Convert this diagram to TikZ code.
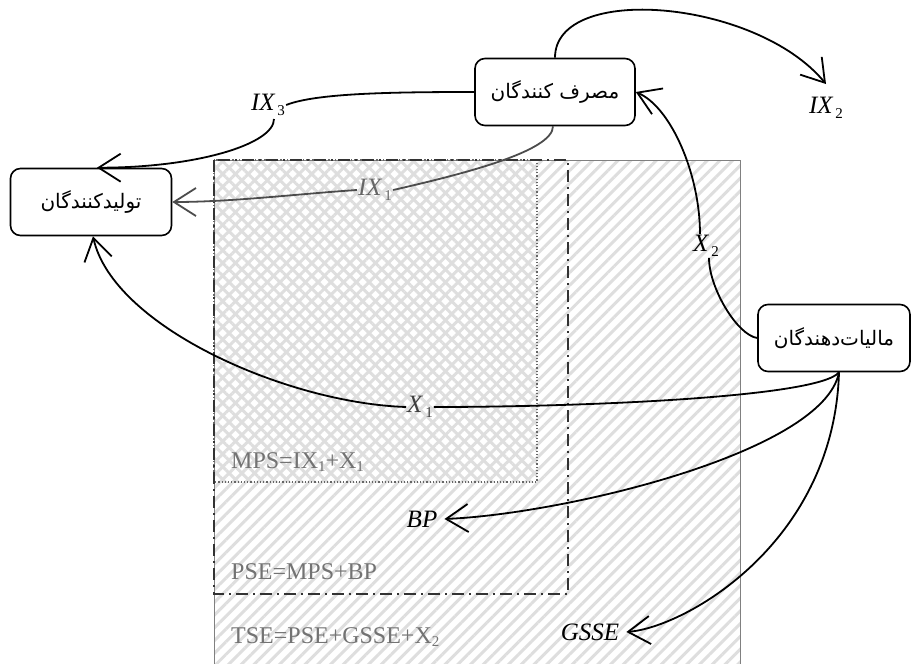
\documentclass[tikz,border=0pt]{standalone}
\usepackage{fontspec}
\setmainfont{Liberation Serif}
\newfontfamily\fa[Script=Arabic]{DejaVu Sans}
\TeXXeTstate=1
\usetikzlibrary{arrows.meta,patterns.meta}
\newcommand{\vlab}[2]{\textit{#1}\hspace{2pt}\raisebox{-0.45ex}{\fontsize{15}{15}\selectfont #2}}
\newcommand{\sbs}[1]{\raisebox{-0.35ex}{\fontsize{15}{15}\selectfont #1}}
\begin{document}
\begin{tikzpicture}[x=1pt,y=-1pt,
  box/.style={draw, line width=1.6pt, rounded corners=10pt, minimum height=67pt, inner sep=2pt, font=\fa\fontsize{20}{20}\selectfont},
  lab/.style={font=\fontsize{25}{25}\selectfont, inner sep=1pt},
  eqn/.style={font=\fontsize{24}{24}\selectfont, text=black!55, anchor=west, inner sep=0pt},
  conn/.style={line width=1.8pt, -{Straight Barb[length=22pt,width=28pt]}},
  plain/.style={line width=1.8pt}]
\useasboundingbox (0,0) rectangle (911,664);
% hatched areas
\fill[pattern={Lines[angle=45,distance=9pt,line width=3pt]}, pattern color=black!13] (214,160) rectangle (740,664);
\fill[pattern={Lines[angle=-45,distance=9pt,line width=3pt]}, pattern color=black!13] (214,160) rectangle (537,482);
% region outlines
\draw[black!50, line width=1pt] (214,664) -- (214,160) -- (740,160) -- (740,664);
\draw[black!60, line width=1.2pt, dash pattern=on 1.2pt off 2pt] (214,160) rectangle (537,482);
\draw[black!80, line width=2.3pt, dash pattern=on 12pt off 5pt on 2pt off 5pt] (214,160) rectangle (568,594);
% nodes
\node[box, minimum width=161pt] (prod) at (91,202) {\beginR تولیدکنندگان\endR};
\node[box, minimum width=160pt] (cons) at (555,92) {\beginR مصرف کنندگان\endR};
\node[box, minimum width=152pt] (tax) at (834,338) {\beginR مالیات^^^^200cدهندگان\endR};
% labels
\node[lab] (ix3) at (268,105) {\vlab{IX}{3}};
\node[lab] (ix2) at (826,108) {\vlab{IX}{2}};
\node[lab, text=black!60] (ix1) at (375,190) {\vlab{IX}{1}};
\node[lab] (x2) at (706,246) {\vlab{X}{2}};
\node[lab, text=black!75] (x1) at (420,407) {\vlab{X}{1}};
\node[lab] (bp) at (422,519) {\textit{BP}};
\node[lab] (gsse) at (590,632) {\textit{GSSE}};
\node[eqn] (mps) at (231,462) {MPS=IX\sbs{1}+X\sbs{1}};
\node[eqn] (pse) at (231,572) {PSE=MPS+BP};
\node[eqn] (tse) at (231,637) {TSE=PSE+GSSE+X\sbs{2}};
% connectors
\draw[conn] ([xshift=0pt]cons.north) .. controls +(0,-75) and +(-70,-85) .. ([yshift=12pt]ix2.north);
\draw[plain] (cons.west) .. controls +(-80,0) and +(30,-12) .. (ix3.east);
\draw[conn] ([xshift=6pt,yshift=-2pt]ix3.south) .. controls +(0,25) and +(100,0) .. ([xshift=6pt]prod.north);
\draw[plain, black!70] ([xshift=-2pt]cons.south) .. controls +(0,25) and +(70,-16) .. (ix1.east);
\draw[conn, black!70] (ix1.west) .. controls +(-60,4) and +(60,0) .. (prod.east);
\draw[plain] (tax.west) .. controls +(-20,-3) and +(0,30) .. ([xshift=3pt]x2.south);
\draw[conn] ([xshift=-6pt]x2.north) .. controls +(0,-60) and +(35,15) .. (cons.east);
\draw[plain] ([xshift=5pt]tax.south) .. controls +(-20,25) and +(150,0) .. (x1.east);
\draw[conn] (x1.west) .. controls +(-120,-4) and +(20,90) .. ([xshift=2pt]prod.south);
\draw[conn] ([xshift=5pt]tax.south) .. controls +(-15,80) and +(120,-5) .. ([xshift=6pt]bp.east);
\draw[conn] ([xshift=5pt]tax.south) .. controls +(-5,170) and +(60,-5) .. ([xshift=6pt]gsse.east);
\end{tikzpicture}
\end{document}
